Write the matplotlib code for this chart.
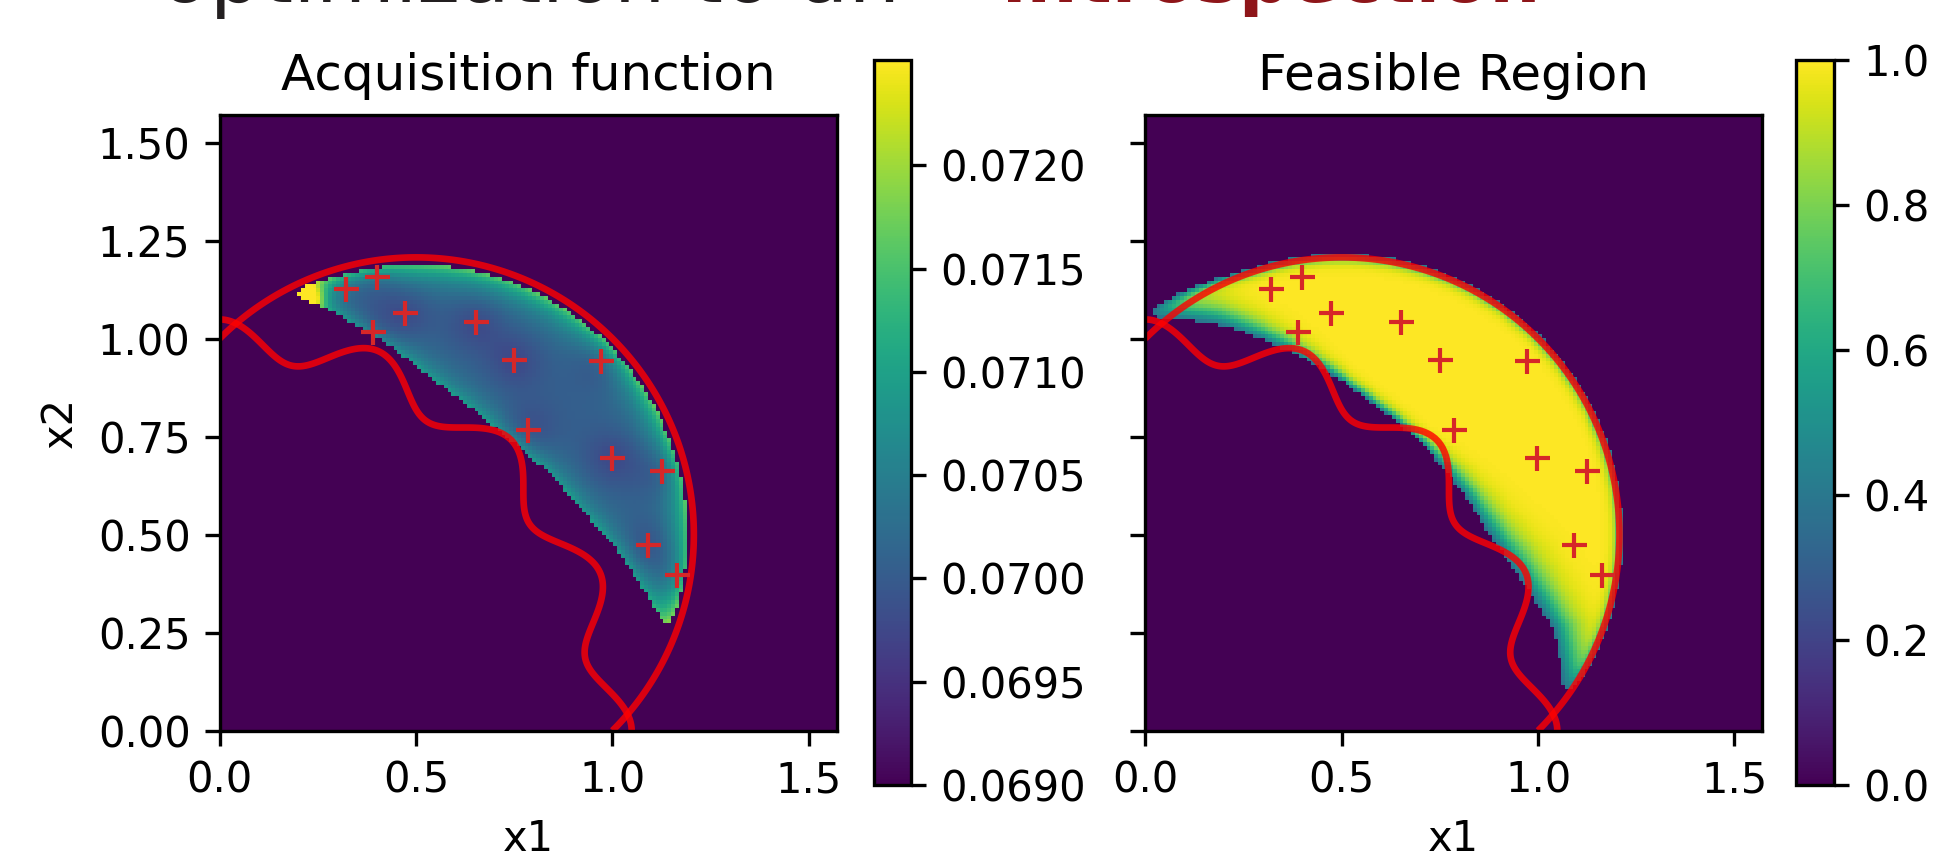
import numpy as np
import matplotlib
matplotlib.use("Agg")
import matplotlib.pyplot as plt
from matplotlib.ticker import FormatStrFormatter

# search domain: x1, x2 in [0, pi/2]
x_max = np.pi / 2
n_img = 160      # resolution of the plotted surfaces
n_line = 600     # resolution used for the constraint contours

# TNK constraints (red curves)
circle_center = (0.5, 0.5)
circle_r2 = 0.5
wave_amp = 0.1
wave_freq = 16

# evaluated points (red +)
pts_x1 = [0.321, 0.400, 0.472, 0.390, 0.652, 0.750, 0.971, 0.786, 0.998, 1.125, 1.091, 1.163]
pts_x2 = [1.126, 1.158, 1.064, 1.017, 1.041, 0.946, 0.942, 0.767, 0.696, 0.663, 0.473, 0.396]

# surrogate estimate of the feasible region
lo_radius = 1.02
lo_rise_low = 0.065    # boundary lifts towards the x1 axis
lo_rise_high = 0.045   # ... and towards the x2 axis
lo_sigma = 0.015
out_radius = 0.712
out_bulge = 0.045
out_sigma = 0.015
p_cut = 0.38
p_acq = 0.93

# acquisition surface
acq_min = 0.0690
acq_max = 0.07251
acq_base = 0.07005
acq_edge_out = 0.0016
acq_edge_lo = 0.0009
acq_tip = 0.0022
tip_xy = (0.225, 1.105)
acq_pt_dip = 0.0003

acq_ticks = [0.0690, 0.0695, 0.0700, 0.0705, 0.0710, 0.0715, 0.0720]
feas_ticks = [0.0, 0.2, 0.4, 0.6, 0.8, 1.0]
ax_ticks_y = [0.0, 0.25, 0.5, 0.75, 1.0, 1.25, 1.5]
ax_ticks_x = [0.0, 0.5, 1.0, 1.5]


def logistic(z):
    return 1.0 / (1.0 + np.exp(-1.702 * z))


def surfaces(x1, x2):
    r = np.hypot(x1, x2)
    theta = np.degrees(np.arctan2(x2, x1))
    rl = (lo_radius
          + lo_rise_low * np.clip((32 - theta) / 18, 0, 1) ** 1.5
          + lo_rise_high * np.clip((theta - 55) / 25, 0, 1) ** 1.2)
    sl = (lo_sigma + 0.034 * np.clip((47 - theta) / 22, 0, 1)
          + 0.025 * np.clip((theta - 60) / 20, 0, 1))
    d = np.hypot(x1 - circle_center[0], x2 - circle_center[1])
    ro = out_radius + out_bulge * np.clip((0.3 - x1) / 0.3, 0, 1) ** 1.5
    p = logistic((r - rl) / sl) * logistic((ro - d) / out_sigma)
    feas = np.where(p < p_cut, 0.0, p)

    e_out = (ro - 1.52 * out_sigma) - d
    e_lo = r - (rl + 1.52 * sl)
    acq = (acq_base
           + acq_edge_out * np.exp(-np.clip(e_out, 0, None) / 0.04)
           + acq_edge_lo * np.exp(-np.clip(e_lo, 0, None) / 0.035)
           + acq_tip * np.exp(-((x1 - tip_xy[0]) ** 2 + (x2 - tip_xy[1]) ** 2) / (2 * 0.025 ** 2)))
    for px, py in zip(pts_x1, pts_x2):
        acq = acq - acq_pt_dip * np.exp(-((x1 - px) ** 2 + (x2 - py) ** 2) / (2 * 0.05 ** 2))
    acq = np.clip(acq, acq_min, acq_max)
    acq = np.where(p > p_acq, acq, acq_min)
    return acq, feas


g = (np.arange(n_img) + 0.5) / n_img * x_max
X1, X2 = np.meshgrid(g, g)
acq, feas = surfaces(X1, X2)

gl = np.linspace(0, x_max, n_line)
L1, L2 = np.meshgrid(gl, gl)
g1 = L1 ** 2 + L2 ** 2 - 1 - wave_amp * np.cos(wave_freq * np.arctan2(L1, L2))
g2 = (L1 - circle_center[0]) ** 2 + (L2 - circle_center[1]) ** 2 - circle_r2

fig = plt.figure(figsize=(6.45, 2.85), dpi=300)
ax_l = fig.add_axes([0.11354, 0.14550, 0.31886, 0.72023])
ax_r = fig.add_axes([0.59189, 0.14550, 0.31886, 0.72023])
cax_l = fig.add_axes([0.45152, 0.08187, 0.01917, 0.84795])
cax_r = fig.add_axes([0.92796, 0.08187, 0.01979, 0.84795])

panels = [
    (ax_l, cax_l, acq, acq_min, acq_max, "Acquisition function", acq_ticks, "%.4f"),
    (ax_r, cax_r, feas, 0.0, 1.0, "Feasible Region", feas_ticks, "%.1f"),
]
for ax, cax, field, vmin, vmax, title, cticks, cfmt in panels:
    im = ax.imshow(field, origin="lower", extent=[0, x_max, 0, x_max],
                   cmap="viridis", vmin=vmin, vmax=vmax,
                   interpolation="nearest", aspect="auto")
    ax.contour(L1, L2, g1, levels=[0], colors="red", alpha=0.8, linewidths=1.6)
    ax.contour(L1, L2, g2, levels=[0], colors="red", alpha=0.8, linewidths=1.6)
    ax.plot(pts_x1, pts_x2, "+", color="C3", markersize=6, mew=1.0, zorder=5)
    ax.set_xlim(0, x_max)
    ax.set_ylim(0, x_max)
    ax.set_xticks(ax_ticks_x)
    ax.set_yticks(ax_ticks_y)
    ax.set_title(title)
    ax.set_xlabel("x1")
    cb = fig.colorbar(im, cax=cax)
    cb.set_ticks(cticks)
    cb.ax.yaxis.set_major_formatter(FormatStrFormatter(cfmt))

ax_l.set_ylabel("x2")
ax_r.set_yticklabels([])

# slide heading, mostly cut off above the figure
fig.text(160 / 1935, 1 - 2 / 855, "optimization to an", color="#231f20",
         fontsize=19.5, va="baseline", ha="left")
fig.text(1002 / 1935, 1 - 2 / 855, "introspection", color="#8e1519",
         fontsize=17.2, fontweight="bold", va="baseline", ha="left")

fig.savefig("out.png", dpi=300)
